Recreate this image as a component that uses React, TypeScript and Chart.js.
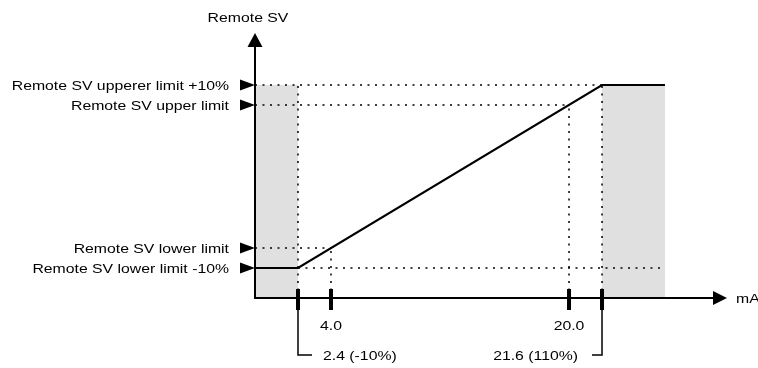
import React, { useEffect, useRef } from "react";
import { Chart, registerables, LinearScale } from "chart.js";

// ---- data (values in mA and % of the remote SV range) ----
const transferMA = [0, 2.4, 21.6, 24];
const transferSV = [-10, -10, 110, 110];

const svLevels = [110, 100, 0, -10];
const svLabels = [
  "Remote SV upperer limit +10%",
  "Remote SV upper limit",
  "Remote SV lower limit",
  "Remote SV lower limit -10%",
];

const mAMarks = [2.4, 4.0, 20.0, 21.6];
const mATickLabels = ["", "4.0", "20.0", ""];
const mABoundLabels = ["2.4 (-10%)", "21.6 (110%)"];

// where each horizontal level's dotted guide stops (mA)
const levelGuideFrom = [0, 0, 0, 2.4];
const levelGuideTo = [21.6, 20.0, 4.0, 24];
// each vertical dotted guide rises to this level (%)
const markGuideTop = [110, 0, 100, 110];

const grayZonesMA = [
  [0, 2.4],
  [21.6, 24],
];
const grayTop = 110;

// ---- schematic (not-to-scale) axis layout: [value, fraction of axis] ----
const X_STOPS = [
  [0, 0],
  [2.4, 0.0911],
  [4.0, 0.161],
  [20.0, 0.6653],
  [21.6, 0.7352],
  [24, 0.8686],
  [28, 1],
];
const Y_STOPS = [
  [-20, 0],
  [-10, 0.1132],
  [0, 0.1887],
  [100, 0.7283],
  [110, 0.8038],
  [150, 1],
];

function interp(stops: number[][], v: number) {
  if (v <= stops[0][0]) return stops[0][1];
  for (let i = 1; i < stops.length; i++) {
    const [v1, d1] = stops[i];
    const [v0, d0] = stops[i - 1];
    if (v <= v1) return d0 + ((v - v0) / (v1 - v0)) * (d1 - d0);
  }
  return stops[stops.length - 1][1];
}

class PiecewiseScale extends LinearScale {
  static id = "piecewise";
  static defaults = LinearScale.defaults;
  getPixelForValue(value: number) {
    const stops = (this as any).axis === "x" ? X_STOPS : Y_STOPS;
    return (this as any).getPixelForDecimal(interp(stops, value));
  }
}

Chart.register(...registerables, PiecewiseScale);

const FONT = '13.5px "Liberation Sans", Arial, sans-serif';
const SX = 1.17;

function text(ctx: CanvasRenderingContext2D, s: string, x: number, y: number, align: CanvasTextAlign) {
  ctx.save();
  ctx.translate(x, y);
  ctx.scale(SX, 1);
  ctx.font = FONT;
  ctx.fillStyle = "#000";
  ctx.textAlign = align;
  ctx.textBaseline = "alphabetic";
  ctx.fillText(s, 0, 0);
  ctx.restore();
}

const decorPlugin = {
  id: "decor",
  afterDraw(chart: any) {
    const ctx: CanvasRenderingContext2D = chart.ctx;
    const xs = chart.scales.x;
    const ys = chart.scales.y;
    const x0 = xs.left;
    const y0 = ys.bottom;
    ctx.save();
    ctx.strokeStyle = "#000";
    ctx.fillStyle = "#000";
    ctx.lineWidth = 2;
    // y axis
    ctx.beginPath();
    ctx.moveTo(x0, y0 + 1);
    ctx.lineTo(x0, ys.top + 12);
    ctx.stroke();
    ctx.beginPath();
    ctx.moveTo(x0, ys.top);
    ctx.lineTo(x0 - 7.5, ys.top + 14);
    ctx.lineTo(x0 + 7.5, ys.top + 14);
    ctx.closePath();
    ctx.fill();
    // x axis
    ctx.beginPath();
    ctx.moveTo(x0 - 1, y0);
    ctx.lineTo(xs.right - 12, y0);
    ctx.stroke();
    ctx.beginPath();
    ctx.moveTo(xs.right, y0);
    ctx.lineTo(xs.right - 14, y0 - 7);
    ctx.lineTo(xs.right - 14, y0 + 7);
    ctx.closePath();
    ctx.fill();

    text(ctx, "Remote SV", x0 - 7, 21.5, "center");
    text(ctx, "mA", xs.right + 9, y0 + 4.5, "left");

    // y level labels with markers
    svLevels.forEach((lv, i) => {
      const py = ys.getPixelForValue(lv);
      ctx.beginPath();
      ctx.moveTo(x0, py);
      ctx.lineTo(x0 - 15, py - 5.5);
      ctx.lineTo(x0 - 15, py + 5.5);
      ctx.closePath();
      ctx.fill();
      text(ctx, svLabels[i], x0 - 26, py + 4.8, "right");
    });

    // x marks
    mAMarks.forEach((m, i) => {
      const px = xs.getPixelForValue(m);
      ctx.fillRect(px - 2, y0 - 9, 4, 21);
      if (mATickLabels[i]) text(ctx, mATickLabels[i], px, y0 + 32, "center");
    });

    // bracket labels
    ctx.lineWidth = 1.5;
    const pl = xs.getPixelForValue(mAMarks[0]);
    const pr = xs.getPixelForValue(mAMarks[3]);
    const by = y0 + 57;
    ctx.beginPath();
    ctx.moveTo(pl, y0 + 10);
    ctx.lineTo(pl, by);
    ctx.lineTo(pl + 14, by);
    ctx.stroke();
    text(ctx, mABoundLabels[0], pl + 25, by + 4.8, "left");
    ctx.beginPath();
    ctx.moveTo(pr, y0 + 10);
    ctx.lineTo(pr, by);
    ctx.lineTo(pr - 10, by);
    ctx.stroke();
    text(ctx, mABoundLabels[1], pr - 24, by + 4.8, "right");
    ctx.restore();
  },
};

export default function App() {
  const ref = useRef<HTMLCanvasElement>(null);
  useEffect(() => {
    if (!ref.current) return;
    const dotted = { borderColor: "#000", borderWidth: 1.5, borderDash: [2, 5.5], pointRadius: 0, fill: false, tension: 0 };
    const datasets: any[] = [
      {
        data: transferMA.map((x, i) => ({ x, y: transferSV[i] })),
        borderColor: "#000",
        borderWidth: 2.2,
        pointRadius: 0,
        fill: false,
        tension: 0,
      },
    ];
    svLevels.forEach((lv, i) => {
      datasets.push({ ...dotted, data: [{ x: levelGuideFrom[i], y: lv }, { x: levelGuideTo[i], y: lv }] });
    });
    mAMarks.forEach((m, i) => {
      datasets.push({ ...dotted, data: [{ x: m, y: -20 }, { x: m, y: markGuideTop[i] }] });
    });
    grayZonesMA.forEach(([a, b]) => {
      datasets.push({
        data: [{ x: a, y: grayTop }, { x: b, y: grayTop }],
        borderWidth: 0,
        borderColor: "rgba(0,0,0,0)",
        backgroundColor: "#e0e0e0",
        pointRadius: 0,
        fill: "start",
      });
    });
    const chart = new Chart(ref.current, {
      type: "line",
      data: { datasets },
      options: {
        animation: false,
        responsive: false,
        devicePixelRatio: 1,
        layout: { padding: { left: 255, top: 33, right: 31, bottom: 70 } },
        plugins: { legend: { display: false }, tooltip: { enabled: false }, title: { display: false } },
        scales: {
          x: { type: "piecewise" as any, min: 0, max: 28, display: false },
          y: { type: "piecewise" as any, min: -20, max: 150, display: false },
        },
      },
      plugins: [decorPlugin],
    });
    return () => chart.destroy();
  }, []);
  return (
    <div style={{ position: "absolute", left: 0, top: 0, width: 758, height: 368, background: "#fff" }}>
      <canvas ref={ref} width={758} height={368} />
    </div>
  );
}
